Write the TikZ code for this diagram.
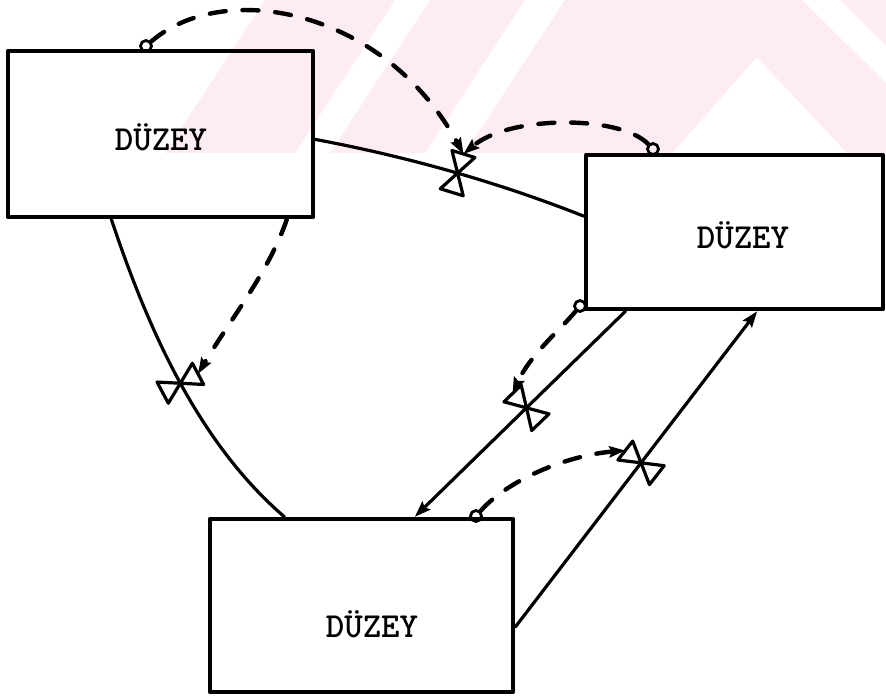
\documentclass[tikz,border=0pt]{standalone}
\usepackage{amsmath}
\usetikzlibrary{arrows,arrows.meta}
\definecolor{filigran}{RGB}{253,236,240}
\tikzset{
  kutu/.style 2 args={draw, line width=1.1mm, inner sep=0pt,
    minimum width=#1*0.25mm, minimum height=#2*0.25mm},
  yazi/.style={anchor=base, inner sep=0pt, font=\ttfamily\bfseries\fontsize{25}{30}\selectfont},
  akis/.style={line width=0.8mm},
  bilgi/.style={line width=1.1mm, dash pattern=on 4mm off 4.2mm},
  halka/.style={draw, circle, line width=0.7mm, minimum size=2.75mm, inner sep=0pt},
  vana/.pic={
    \draw[line width=0.8mm]
      (0,0) -- (20,12) -- (20,-12) -- cycle
      (0,0) -- (-20,12) -- (-20,-12) -- cycle;
    \coordinate (-ust) at (20,0);
  }
}
\begin{document}
\begin{tikzpicture}[line cap=round,line join=round,>={Stealth[length=4mm,width=2.8mm,inset=0.6mm]},x=0.25mm,y=-0.25mm]
  \useasboundingbox (0,0) rectangle (886,697);
  % filigran
  \begin{scope}
    \clip (0,0) rectangle (886,153);
    \fill[filigran] (165,153) -- (265,0) -- (395,0) -- (295,153) -- cycle;
    \fill[filigran] (330,153) -- (430,0) -- (525,0) -- (425,153) -- cycle;
    \fill[filigran] (465,153) -- (565,0) -- (802,0) -- (886,83) -- (886,153)
      -- (847,153) -- (757,57) -- (672,153) -- cycle;
    \fill[filigran] (840,0) -- (886,0) -- (886,46) -- cycle;
  \end{scope}
  % seviyeler
  \node[kutu={305}{166}] (d1) at (160.5,134) {};
  \node[kutu={297}{154}] (d2) at (734.5,232) {};
  \node[kutu={303}{173}] (d3) at (361.5,605.5) {};
  \node[yazi] (y1) at (161,150) {DÜZEY};
  \node[yazi] (y2) at (743,248) {DÜZEY};
  \node[yazi] (y3) at (372,637) {DÜZEY};
  % akislar
  \draw[akis] (d1.-2) .. controls (404,156) and (495,181) .. (d2.174) coordinate[pos=0.53] (k1);
  \draw[akis] (d1.-120) .. controls (145,320) and (195,440) .. (d3.131) coordinate[pos=0.52] (k2);
  \draw[akis,->] (d2.-144) -- (d3.59) coordinate[pos=0.47] (k3);
  \draw[akis,->] (d3.-8) -- (d2.-74) coordinate[pos=0.52] (k4);
  % vanalar
  \pic[rotate=73] (v1) at (k1) {vana};
  \pic[rotate=28] (v2) at (k2) {vana};
  \pic[rotate=134] (v3) at (k3) {vana};
  \pic[rotate=142] (v4) at (k4) {vana};
  % bilgi baglari
  \node[halka] (r1) at (146,46) {};
  \node[halka] (r2) at (653,149) {};
  \node[halka] (r3) at (580,306) {};
  \node[halka] (r4) at (476,516) {};
  \draw[bilgi,->] (r1) .. controls (225,-22) and (385,10) .. (v1-ust);
  \draw[bilgi,->] (r2) .. controls (620,115) and (510,115) .. (v1-ust);
  \draw[bilgi,->] (d1.-34) .. controls (270,270) and (230,320) .. (v2-ust);
  \draw[bilgi,->] (r3) .. controls (560,330) and (530,355) .. (v3-ust);
  \draw[bilgi,->] (r4) .. controls (510,478) and (570,455) .. (v4-ust);
\end{tikzpicture}
\end{document}
